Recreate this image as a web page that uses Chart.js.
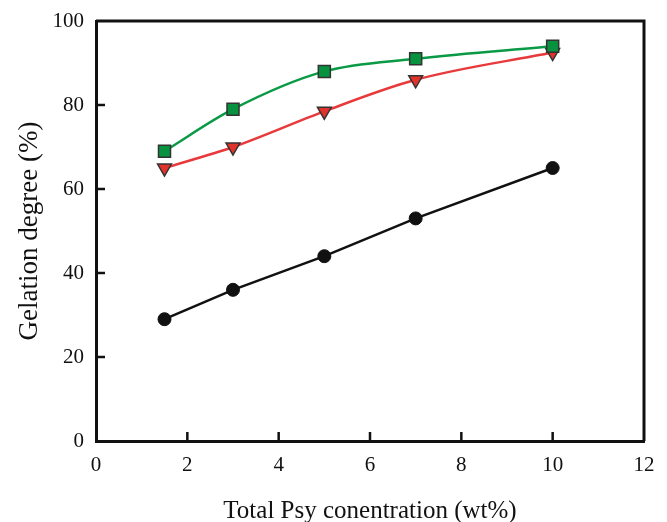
<!DOCTYPE html>
<html><head><meta charset="utf-8">
<script src="https://cdn.jsdelivr.net/npm/chart.js@4/dist/chart.umd.min.js"></script>
<style>html,body{margin:0;padding:0;background:#fff}#wrap{width:667px;height:522px}</style>
</head><body><div id="wrap"><canvas id="c" width="667" height="522"></canvas></div>
<script>
const xValues = [1.5, 3, 5, 7, 10];
const greenValues = [69, 79, 88, 91, 94];
const redValues = [65, 70, 78.5, 86, 92.5];
const blackValues = [29, 36, 44, 53, 65];
const xTicks = [0, 2, 4, 6, 8, 10, 12];
const yTicks = [0, 20, 40, 60, 80, 100];
const xTitle = 'Total Psy conentration (wt%)';
const yTitle = 'Gelation degree (%)';

function pts(ys){ return xValues.map((x,i)=>({x:x,y:ys[i]})); }

const framePlugin = {
  id:'frame',
  afterDraw(chart){
    const {ctx, chartArea:a, scales:{x,y}} = chart;
    ctx.save();
    ctx.strokeStyle='#111'; ctx.lineWidth=3;
    ctx.beginPath();
    ctx.moveTo(a.left, a.top); ctx.lineTo(a.right, a.top); ctx.lineTo(a.right, a.bottom);
    ctx.stroke();
    ctx.lineWidth=2.5;
    ctx.beginPath();
    xTicks.forEach(v=>{ const px=x.getPixelForValue(v); if(v>0&&v<12){ctx.moveTo(px,a.bottom);ctx.lineTo(px,a.bottom-9);} });
    yTicks.forEach(v=>{ const py=y.getPixelForValue(v); if(v>0&&v<100){ctx.moveTo(a.left,py);ctx.lineTo(a.left+9,py);} });
    ctx.stroke();
    ctx.restore();
  }
};

new Chart(document.getElementById('c'), {
  type:'scatter',
  data:{datasets:[
    {data:pts(greenValues), showLine:true, borderColor:'#0a9a46', borderWidth:2.5, cubicInterpolationMode:'monotone',
     pointStyle:'rect', pointRadius:8.5, pointBackgroundColor:'#07923f', pointBorderColor:'#333', pointBorderWidth:1.5},
    {data:pts(redValues), showLine:true, borderColor:'#e8393b', borderWidth:2.5, cubicInterpolationMode:'monotone',
     pointStyle:'triangle', rotation:180, pointRadius:8, pointBackgroundColor:'#e2322c', pointBorderColor:'#333', pointBorderWidth:1.5},
    {data:pts(blackValues), showLine:true, borderColor:'#111', borderWidth:2.5, tension:0,
     pointStyle:'circle', pointRadius:6.5, pointBackgroundColor:'#111', pointBorderColor:'#111', pointBorderWidth:1}
  ]},
  options:{
    responsive:false, animation:false, devicePixelRatio:1,
    layout:{padding:{top:21,right:23,left:0,bottom:0}},
    plugins:{legend:{display:false}, tooltip:{enabled:false}},
    scales:{
      x:{type:'linear', min:0, max:12, afterBuildTicks(s){s.ticks=xTicks.map(v=>({value:v}));},
        afterFit(s){s.height=81; s.paddingLeft=0; s.paddingRight=0;},
        grid:{display:true, drawOnChartArea:false, drawTicks:false},
        border:{display:true, color:'#111', width:3},
        ticks:{padding:12, color:'#111', font:{family:'Liberation Serif', size:21}},
        title:{display:true, text:xTitle, color:'#111', font:{family:'Liberation Serif', size:25}, padding:{top:0,bottom:-4}}},
      y:{type:'linear', min:0, max:100, afterBuildTicks(s){s.ticks=yTicks.map(v=>({value:v}));},
        afterFit(s){s.width=96; s.paddingTop=0; s.paddingBottom=0;},
        grid:{display:true, drawOnChartArea:false, drawTicks:false},
        border:{display:true, color:'#111', width:3},
        ticks:{padding:12, color:'#111', font:{family:'Liberation Serif', size:21}},
        title:{display:true, text:yTitle, color:'#111', font:{family:'Liberation Serif', size:27}, padding:{top:14,bottom:0}}}
    }
  },
  plugins:[framePlugin]
});
</script></body></html>
